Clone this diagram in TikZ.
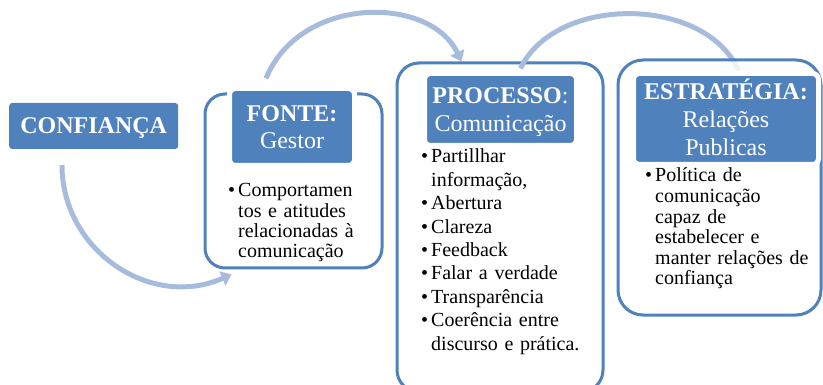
\documentclass[tikz,border=0pt]{standalone}
\usepackage{fontspec}
\setmainfont{Liberation Serif}
\usetikzlibrary{arrows.meta,calc}
\definecolor{boxblue}{RGB}{79,129,189}
\definecolor{flowblue}{RGB}{167,188,221}
\pgfdeclarelayer{front}
\pgfsetlayers{main,front}
\newcommand\lbul{\makebox[10pt][l]{\textbullet}}
\newcommand\lind{\hspace*{10pt}}
\begin{document}
\begin{tikzpicture}[x=1pt,y=-1pt,
  frame/.style={draw=boxblue, line width=3pt, fill=white, rounded corners=#1, inner sep=0pt},
  headbox/.style={fill=boxblue, draw=white, line width=5pt, rounded corners=6pt, inner sep=0pt},
  headtext/.style={text=white, font=\fontsize{24}{#1}\selectfont, align=center, text width=190pt, anchor=base, inner sep=0pt},
  listtext/.style={font=\fontsize{20}{#1}\selectfont, align=left, text width=200pt, anchor=base west, inner sep=0pt},
  flow/.style={draw=flowblue, line width=5pt},
  tip/.style={-{Triangle[length=10pt,width=15pt]}}
]
\useasboundingbox (0,0) rectangle (823,385);

% CONFIANCA
\node[fill=boxblue, rounded corners=3pt, minimum width=169pt, minimum height=46pt, inner sep=0pt,
      text=white, font=\fontsize{24}{28}\selectfont\bfseries, text height=16pt, text depth=0pt]
  (conf) at (93.7,126) {CONFIANÇA};

% FONTE
\node[frame=20pt, minimum width=177pt, minimum height=174pt] (fonteF) at (293.5,181) {};
\node[headbox, minimum width=125pt, minimum height=77pt] (fonteH) at (292,127) {};

% PROCESSO
\node[frame=22pt, minimum width=206pt, minimum height=329pt] (procF) at (500,227.5) {};
\node[headbox, minimum width=152pt, minimum height=72pt] (procH) at (500.5,109.5) {};

% ESTRATEGIA (front layer)
\begin{pgfonlayer}{front}
\node[frame=25pt, fill opacity=0.8, minimum width=203pt, minimum height=255pt] (stratF) at (719.5,187.5) {};
\node[headbox, minimum width=185pt, minimum height=91pt] (stratH) at (726,119) {};
\end{pgfonlayer}

% flow arrows
\draw[flow,tip] ([shift={(-31.7,16)}]conf.south) .. controls (62,250) and (150,310) .. ([shift={(28,5)}]fonteF.south west);
\draw[flow,tip] ([shift={(-27.5,-14)}]fonteF.north) .. controls (300,-5) and (430,-5) .. ([shift={(66,0)}]procF.north west);
\draw[flow] ([shift={(125,7)}]procF.north west) .. controls (555,-5) and (705,-5) .. ([shift={(122,12)}]stratF.north west);

% texts
\node[headtext=27] (fonteT) at (292,122) {\textbf{FONTE:}\\Gestor};
\node[headtext=28] (procT) at (500.5,104) {\textbf{PROCESSO}:\\Comunicação};
\begin{pgfonlayer}{front}
\node[headtext=28] (stratT) at (726,100) {\textbf{ESTRATÉGIA:}\\Relações\\Publicas};
\node[listtext=20.6] (stratL) at (645,182) {\lbul Política de\\\lind comunicação\\\lind capaz de\\\lind estabelecer e\\\lind manter relações de\\\lind confiança};
\end{pgfonlayer}

\node[listtext=20.3] (fonteL) at (228,197) {\lbul Comportamen\\\lind tos e atitudes\\\lind relacionadas à\\\lind comunicação};
\node[listtext=23.4] (procL) at (421,163) {\lbul Partillhar\\\lind informação,\\\lbul Abertura\\\lbul Clareza\\\lbul Feedback\\\lbul Falar a verdade\\\lbul Transparência\\\lbul Coerência entre\\\lind discurso e prática.};
\end{tikzpicture}
\end{document}
